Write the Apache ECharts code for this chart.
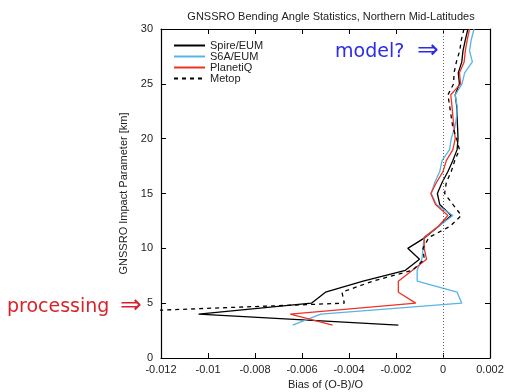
<!DOCTYPE html>
<html>
<head>
<meta charset="utf-8">
<script src="https://cdn.jsdelivr.net/npm/echarts@6/dist/echarts.min.js"></script>
<style>
  html, body { margin: 0; padding: 0; background: #fff; }
  #chart { width: 507px; height: 392px; }
</style>
</head>
<body>
<div id="chart"></div>
<script>
// impact parameter levels [km]
const impactKm = [3, 4, 5, 6, 7, 8, 9, 10, 11, 12, 13, 14, 15, 16, 17, 18, 19, 20, 21, 22, 23, 24, 25, 26, 27, 28, 29, 30]

// bias of (O-B)/O per level
const spireEum = [-0.0019, -0.0104, -0.0056, -0.0050, -0.0034, -0.0016, -0.0010, -0.0015, -0.00075, -0.0002,
  0.00035, -0.00014, -0.00024, -0.00004, 0.00021, 0.00042, 0.0006, 0.00064, 0.00062, 0.0006,
  0.00058, 0.00052, 0.0007, 0.00065, 0.0008, 0.00085, 0.00095, 0.00106]
const s6aEum = [-0.0064, -0.0052, 0.0008, 0.0006, -0.0011, -0.0011, -0.0009, -0.00085, -0.0008, -0.0002,
  0.00042, -0.00028, -0.0005, -0.00035, -0.00014, -0.00004, 0.00028, 0.00035, 0.0005, 0.00058,
  0.0006, 0.00052, 0.00081, 0.00092, 0.00125, 0.00113, 0.0012, 0.00132]
const planetIq = [-0.0047, -0.0065, -0.00116, -0.0019, -0.0019, -0.0013, -0.0007, -0.0008, -0.0008, -0.0002,
  0.00021, -0.00032, -0.00052, -0.00028, 0, 0.00014, 0.00042, 0.00052, 0.00047, 0.00042,
  0.00038, 0.00033, 0.00075, 0.0007, 0.0009, 0.00095, 0.00103, 0.00113]
const metop = [null, -0.0165, -0.0042, -0.0043, -0.003, -0.0013, -0.0008, -0.00085, -0.0006, 0.0003,
  0.00078, 0.00042, 0.00007, 0.00014, 0.00035, 0.0005, 0.0007, 0.00058, 0.00042, 0.00035,
  0.00028, 0.00021, 0.00045, 0.00047, 0.00057, 0.00071, 0.00078, 0.00089]

const xTicks = [-0.012, -0.01, -0.008, -0.006, -0.004, -0.002, 0, 0.002]

const FONT = '"Liberation Sans", Arial, sans-serif'
const NOTE_FONT = '"DejaVu Sans", sans-serif'
const TEXT = '#222'

const toPairs = (vals) => vals
  .map((v, i) => [v, impactKm[i]])
  .filter((p) => p[0] !== null)

const fmtTick = (v) => {
  const hit = xTicks.find((t) => Math.abs(t - v) < 1e-9)
  return String(+(hit ?? v).toFixed(3))
}

const chart = echarts.init(document.getElementById('chart'), null, { renderer: 'canvas' })

const frame = { show: true, onZero: false, lineStyle: { color: '#000', width: 1.2 } }
const tick = { show: true, inside: true, length: 5, lineStyle: { color: '#000', width: 1 } }

const lineSeries = (name, vals, color, type) => ({
  name,
  type: 'line',
  data: toPairs(vals),
  symbol: 'none',
  clip: true,
  animation: false,
  lineStyle: { color, width: 1.3, type: type || 'solid' },
  itemStyle: { color },
})

const note = (text, x, y, size, fill) => ({
  type: 'text',
  x,
  y,
  style: { text, fontFamily: NOTE_FONT, fontSize: size, fill, textVerticalAlign: 'middle' },
})

chart.setOption({
  animation: false,
  title: {
    text: 'GNSSRO Bending Angle Statistics, Northern Mid-Latitudes',
    left: 326,
    top: 6,
    textAlign: 'center',
    textStyle: { fontFamily: FONT, fontSize: 11, fontWeight: 'normal', color: TEXT },
  },
  grid: { left: 161, right: 17, top: 29, bottom: 34, containLabel: false, outerBoundsMode: 'none' },
  legend: {
    orient: 'vertical',
    left: 168,
    top: 35,
    itemWidth: 31,
    itemHeight: 11,
    itemGap: 0,
    itemStyle: { opacity: 0 },
    textStyle: { fontFamily: FONT, fontSize: 11, color: TEXT, lineHeight: 11 },
    data: ['Spire/EUM', 'S6A/EUM', 'PlanetiQ', 'Metop'],
  },
  xAxis: [
    {
      type: 'value',
      position: 'bottom',
      min: -0.012,
      max: 0.002,
      interval: 0.002,
      name: 'Bias of (O-B)/O',
      nameLocation: 'middle',
      nameGap: 21,
      nameTextStyle: { fontFamily: FONT, fontSize: 11, color: TEXT },
      axisLine: frame,
      axisTick: tick,
      axisLabel: { fontFamily: FONT, fontSize: 11, color: TEXT, margin: 6, formatter: fmtTick },
      splitLine: { show: false },
    },
    {
      type: 'value',
      position: 'top',
      min: -0.012,
      max: 0.002,
      interval: 0.002,
      axisLine: frame,
      axisTick: tick,
      axisLabel: { show: false },
      splitLine: { show: false },
    },
  ],
  yAxis: [
    {
      type: 'value',
      position: 'left',
      min: 0,
      max: 30,
      interval: 5,
      name: 'GNSSRO Impact Parameter [km]',
      nameLocation: 'middle',
      nameGap: 31,
      nameTextStyle: { fontFamily: FONT, fontSize: 11, color: TEXT },
      axisLine: frame,
      axisTick: tick,
      axisLabel: { fontFamily: FONT, fontSize: 11, color: TEXT, margin: 8 },
      splitLine: { show: false },
    },
    {
      type: 'value',
      position: 'right',
      min: 0,
      max: 30,
      interval: 5,
      axisLine: frame,
      axisTick: tick,
      axisLabel: { show: false },
      splitLine: { show: false },
    },
  ],
  series: [
    {
      ...lineSeries('Spire/EUM', spireEum, '#000'),
      markLine: {
        silent: true,
        symbol: 'none',
        label: { show: false },
        lineStyle: { color: '#666', width: 1, type: [1, 2] },
        data: [{ xAxis: 0 }],
      },
    },
    lineSeries('S6A/EUM', s6aEum, '#56b4e9'),
    lineSeries('PlanetiQ', planetIq, '#ee3322'),
    lineSeries('Metop', metop, '#000', [4, 4]),
  ],
  graphic: [
    note('model?', 335, 52, 19, '#2b2be8'),
    note('⇒', 417, 51, 26, '#2b2be8'),
    note('processing', 7, 307, 19, '#d8232a'),
    note('⇒', 120, 306, 26, '#d8232a'),
  ],
})
</script>
</body>
</html>
